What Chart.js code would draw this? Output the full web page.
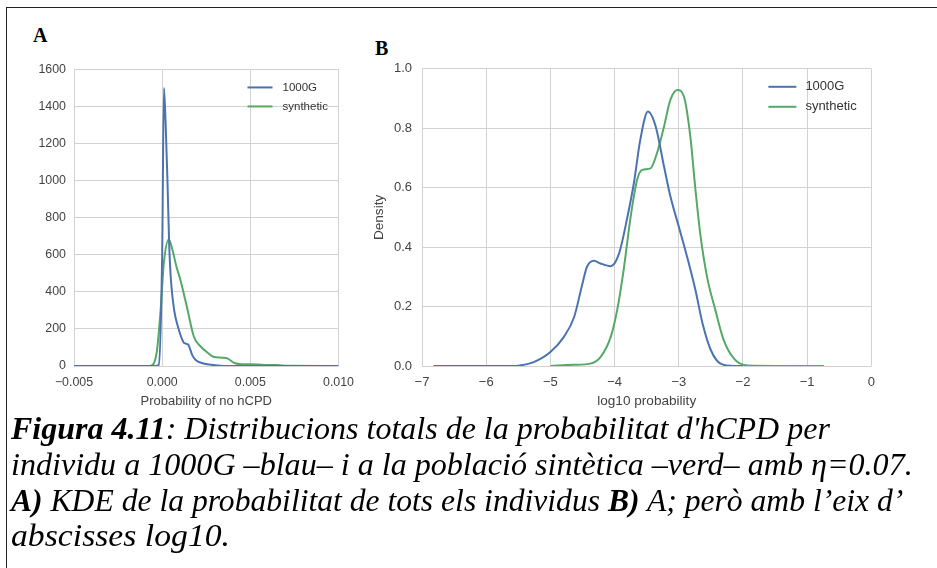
<!DOCTYPE html>
<html lang="ca">
<head>
<meta charset="UTF-8">
<title>Figura 4.11</title>
<script src="https://cdn.jsdelivr.net/npm/chart.js"></script>
<style>
    body{
        margin:0;
        width:937px;
        height:568px;
        position:relative;
        overflow:hidden;
        background:#fff;
    }
    .frame{
        position:absolute;
        left:6px; top:7px; right:0; bottom:0;
        border-top:1px solid #222;
        border-left:1px solid #222;
    }
    .panel{ position:absolute; }
    #panelA{ left:0; top:54px; width:363px; height:361px; }
    #panelB{ left:360px; top:51px; width:524px; height:364px; }
    .tag{
        position:absolute;
        font:bold 20px "Liberation Serif", serif;
        line-height:20px;
    }
    .caption{
        position:absolute;
        left:11px; top:411px;
        font:italic 31px "Liberation Serif", serif;
        line-height:35.8px;
        white-space:nowrap;
        color:#000;
    }
    .caption span{
        display:inline-block;
        transform-origin:0 0;
    }
</style>
</head>
<body>
<div class="frame"></div>
<div class="tag" style="left:33px;top:25px;">A</div>
<div class="tag" style="left:375px;top:38px;">B</div>
<div class="panel" id="panelA"><canvas id="chartA"></canvas></div>
<div class="panel" id="panelB"><canvas id="chartB"></canvas></div>
<div class="caption" id="caption">
    <div><span data-w="819"><b>Figura 4.11</b>: Distribucions totals de la probabilitat d'hCPD per</span></div>
    <div><span data-w="902">individu a 1000G –blau– i a la població sintètica –verd– amb η=0.07.</span></div>
    <div><span data-w="892"><b>A)</b> KDE de la probabilitat de tots els individus <b>B)</b> A; però amb l’eix d’</span></div>
    <div><span data-w="219">abscisses log10.</span></div>
</div>
<script>
// panel A: KDE of probability of no hCPD
const xA_1000G = [-0.005, -0.0004, -0.0002, 0.0, 0.0001, 0.0002, 0.0003, 0.0004, 0.0005, 0.00068, 0.0009, 0.0012, 0.00135, 0.0015, 0.0017, 0.0019, 0.0024, 0.0029, 0.0035, 0.010];
const yA_1000G = [0, 0, 5, 600, 1500, 1300, 1000, 650, 460, 302, 210, 130, 120, 112, 60, 32, 12, 5, 0, 0];
const xA_synth = [-0.005, -0.0007, -0.0005, -0.0003, -0.0001, 0.0001, 0.00038, 0.0006, 0.0008, 0.00104, 0.0014, 0.0018, 0.0022, 0.0026, 0.0029, 0.0034, 0.0037, 0.0041, 0.0045, 0.005, 0.0058, 0.0065, 0.0072, 0.010];
const yA_synth = [0, 0, 10, 80, 285, 560, 683, 620, 540, 463, 320, 158, 104, 70, 50, 45, 41, 16, 10, 10, 6, 5, 1, 0];

// panel B: KDE of log10 probability
const xB_1000G = [-6.82, -5.6, -5.47, -5.26, -5.0, -4.79, -4.63, -4.5, -4.43, -4.32, -4.22, -4.06, -3.93, -3.8, -3.7, -3.6, -3.48, -3.36, -3.23, -3.13, -3.0, -2.87, -2.74, -2.63, -2.5, -2.35, -2.14, -2.0];
const yB_1000G = [0, 0, 0.002, 0.013, 0.047, 0.098, 0.165, 0.278, 0.334, 0.354, 0.345, 0.336, 0.379, 0.502, 0.615, 0.761, 0.856, 0.806, 0.671, 0.57, 0.469, 0.367, 0.255, 0.143, 0.053, 0.008, 0, 0];
const xB_synth = [-5.0, -4.64, -4.38, -4.22, -4.06, -3.96, -3.86, -3.75, -3.65, -3.57, -3.44, -3.34, -3.23, -3.13, -3.02, -2.92, -2.82, -2.74, -2.66, -2.56, -2.43, -2.3, -2.14, -1.93, -0.74];
const yB_synth = [0, 0.004, 0.008, 0.03, 0.098, 0.188, 0.322, 0.502, 0.626, 0.66, 0.665, 0.716, 0.806, 0.896, 0.929, 0.907, 0.772, 0.592, 0.435, 0.3, 0.188, 0.087, 0.025, 0.002, 0];

const seriesLabels = ['1000G', 'synthetic'];
const blue = '#4c72b0';
const green = '#55a868';
const gridColor = '#d2d2d2';
const tickColor = '#444';
const sans = '"Liberation Sans", Arial, sans-serif';

function pts(xs, ys){
    return xs.map((x, i) => ({x: x, y: ys[i]}));
}
function minus(s){
    return String(s).replace('-', '\u2212');
}

// legend drawn inside the plot, top right
const legendInside = {
    id: 'legendInside',
    afterDraw(chart, args, o){
        const ctx = chart.ctx;
        const area = chart.chartArea;
        ctx.save();
        ctx.font = o.size + 'px ' + sans;
        ctx.textBaseline = 'middle';
        chart.data.datasets.forEach((ds, i) => {
            const y = area.top + 18 + i * o.gap;
            const x = area.right - o.lineX;
            ctx.strokeStyle = ds.borderColor;
            ctx.lineWidth = 2;
            ctx.beginPath();
            ctx.moveTo(x, y);
            ctx.lineTo(x + o.len, y);
            ctx.stroke();
            ctx.fillStyle = '#333';
            ctx.fillText(ds.label, area.right - o.textX, y);
        });
        ctx.restore();
    }
};

function makeChart(id, sets, xOpt, yOpt, leg){
    return new Chart(document.getElementById(id), {
        type: 'scatter',
        plugins: [legendInside],
        data: {
            datasets: sets.map((s, i) => ({
                label: seriesLabels[i],
                data: pts(s[0], s[1]),
                showLine: true,
                borderColor: i === 0 ? blue : green,
                borderWidth: 2,
                pointRadius: 0,
                cubicInterpolationMode: 'monotone',
                fill: false
            }))
        },
        options: {
            responsive: true,
            maintainAspectRatio: false,
            animation: false,
            layout: { padding: { top: 14, right: 0, left: 0, bottom: 0 } },
            plugins: {
                legend: { display: false },
                tooltip: { enabled: false },
                legendInside: leg
            },
            scales: {
                x: {
                    type: 'linear',
                    min: xOpt.min, max: xOpt.max,
                    border: { display: false },
                    grid: { color: gridColor, drawTicks: false },
                    ticks: {
                        stepSize: xOpt.step,
                        padding: 9,
                        color: tickColor,
                        font: { family: sans, size: xOpt.size },
                        maxRotation: 0,
                        callback: xOpt.fmt
                    },
                    title: {
                        display: true,
                        text: xOpt.title,
                        color: '#444',
                        font: { family: sans, size: xOpt.titleSize },
                        padding: { top: 0, bottom: 6 }
                    },
                    afterFit: s => { s.height = 49; }
                },
                y: {
                    min: yOpt.min, max: yOpt.max,
                    border: { display: false },
                    grid: { color: gridColor, drawTicks: false },
                    ticks: {
                        stepSize: yOpt.step,
                        padding: yOpt.pad,
                        color: tickColor,
                        font: { family: sans, size: xOpt.size },
                        callback: yOpt.fmt
                    },
                    title: {
                        display: !!yOpt.title,
                        text: yOpt.title || '',
                        color: '#444',
                        font: { family: sans, size: xOpt.titleSize },
                        padding: { top: 11, bottom: 0 }
                    },
                    afterFit: s => { s.width = yOpt.w; }
                }
            }
        }
    });
}

makeChart('chartA',
    [[xA_1000G, yA_1000G], [xA_synth, yA_synth]],
    { min: -0.005, max: 0.010, step: 0.005, size: 12.4, titleSize: 13, title: 'Probability of no hCPD',
      fmt: v => minus((Math.round(v * 1000) / 1000).toFixed(3)) },
    { min: 0, max: 1600, step: 200, w: 74, pad: 8, fmt: v => v },
    { size: 11.5, gap: 19, lineX: 91, len: 25, textX: 56 });

makeChart('chartB',
    [[xB_1000G, yB_1000G], [xB_synth, yB_synth]],
    { min: -7, max: 0, step: 1, size: 13, titleSize: 13.6, title: 'log10 probability',
      fmt: v => minus(Math.round(v)) },
    { min: 0, max: 1.0, step: 0.2, w: 62, pad: 10, title: 'Density', fmt: v => v.toFixed(1) },
    { size: 13, gap: 20, lineX: 103, len: 28, textX: 66 });

// squeeze each caption line to the width it has in the figure
document.querySelectorAll('#caption span').forEach(sp => {
    const w = sp.getBoundingClientRect().width;
    sp.style.transform = 'scaleX(' + (Number(sp.dataset.w) / w).toFixed(3) + ')';
});
</script>
</body>
</html>
